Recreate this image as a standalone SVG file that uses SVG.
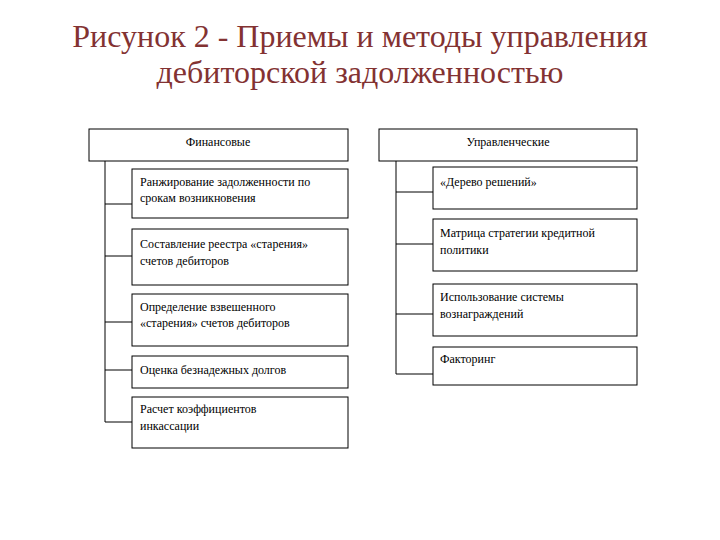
<svg xmlns="http://www.w3.org/2000/svg" width="720" height="540" viewBox="0 0 720 540">
<style>
.t{font-family:"Liberation Serif","Times New Roman",serif;font-size:12px;fill:#000}
.h{font-family:"Liberation Serif","Times New Roman",serif;font-size:32px;fill:#833232;text-anchor:middle}
rect{fill:#fff;stroke:#000;stroke-width:1}
.c{stroke:#000;stroke-width:1;fill:none}
</style>
<rect x="0" y="0" width="720" height="540" style="stroke:none"/>
<text class="h" x="360" y="47">Рисунок 2 - Приемы и методы управления</text>
<text class="h" x="360" y="83">дебиторской задолженностью</text>
<g id="connectors">
<path class="c" d="M105 161V422M105 204H132M105 256H132M105 322H132M105 370H132M105 422H132"/>
<path class="c" d="M396 161V374M396 192H433M396 244H433M396 314H433M396 374H433"/>
</g>
<g id="fin"><rect x="89" y="129" width="259" height="32"/><text class="t" x="218" y="146" text-anchor="middle">Финансовые</text></g>
<g id="f1"><rect x="132" y="169" width="216" height="49"/><text class="t" x="140" y="186">Ранжирование задолженности по</text><text class="t" x="140" y="202">срокам возникновения</text></g>
<g id="f2"><rect x="132" y="229" width="216" height="56"/><text class="t" x="140" y="248">Составление реестра «старения»</text><text class="t" x="140" y="265">счетов дебиторов</text></g>
<g id="f3"><rect x="132" y="294" width="216" height="52"/><text class="t" x="140" y="311">Определение взвешенного</text><text class="t" x="140" y="327">«старения» счетов дебиторов</text></g>
<g id="f4"><rect x="132" y="356" width="216" height="32"/><text class="t" x="140" y="374">Оценка безнадежных долгов</text></g>
<g id="f5"><rect x="132" y="397" width="216" height="51"/><text class="t" x="140" y="413">Расчет коэффициентов</text><text class="t" x="140" y="430">инкассации</text></g>
<g id="upr"><rect x="379" y="129" width="258" height="32"/><text class="t" x="508" y="146" text-anchor="middle">Управленческие</text></g>
<g id="u1"><rect x="433" y="167" width="204" height="42"/><text class="t" x="440" y="186">«Дерево решений»</text></g>
<g id="u2"><rect x="433" y="219" width="204" height="52"/><text class="t" x="440" y="237">Матрица стратегии кредитной</text><text class="t" x="440" y="254">политики</text></g>
<g id="u3"><rect x="433" y="284" width="204" height="52"/><text class="t" x="440" y="301">Использование системы</text><text class="t" x="440" y="318">вознаграждений</text></g>
<g id="u4"><rect x="433" y="347" width="204" height="38"/><text class="t" x="440" y="363">Факторинг</text></g>
</svg>
